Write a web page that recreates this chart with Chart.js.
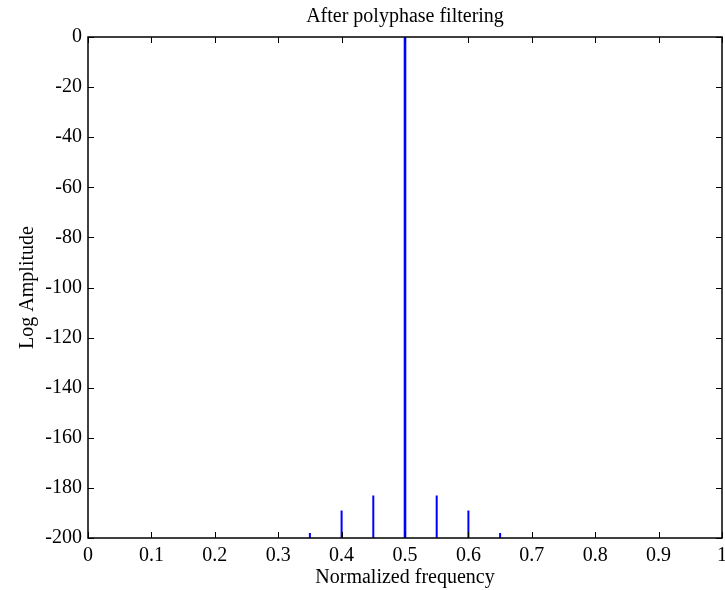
<!DOCTYPE html>
<html>
<head>
<meta charset="utf-8">
<title>After polyphase filtering</title>
<script src="https://cdn.jsdelivr.net/npm/chart.js@4.4.1/dist/chart.umd.min.js"></script>
<style>
  html, body { margin: 0; padding: 0; background: #fff; }
  #wrap { width: 725px; height: 590px; }
</style>
</head>
<body>
<div id="wrap"><canvas id="chartSpec" width="725" height="590"></canvas></div>
<script>
  // spectrum peaks (normalized frequency / log amplitude in dB)
  var spikeFreqs = [0.35, 0.4, 0.45, 0.5, 0.55, 0.6, 0.65];
  var spikeLevels = [-198, -189, -183, 0, -183, -189, -198];
  var floorLevel = -300; // everything else is below the axis
  var xTicks = [0, 0.1, 0.2, 0.3, 0.4, 0.5, 0.6, 0.7, 0.8, 0.9, 1];
  var yTicks = [-200, -180, -160, -140, -120, -100, -80, -60, -40, -20, 0];

  var points = [];
  spikeFreqs.forEach(function (f, i) {
    points.push({ x: f, y: floorLevel });
    points.push({ x: f, y: spikeLevels[i] });
    points.push({ x: f, y: floorLevel });
  });

  var font = { family: "'Liberation Serif', 'Times New Roman', serif", size: 20 };

  // matlab style box with inward ticks on all four sides
  var boxPlugin = {
    id: "boxTicks",
    afterDraw: function (chart) {
      var c = chart.ctx, a = chart.chartArea;
      var xs = chart.scales.x, ys = chart.scales.y;
      var len = 6;
      c.save();
      c.strokeStyle = "#000";
      c.lineWidth = 1;
      c.beginPath();
      xs.ticks.forEach(function (t) {
        var px = Math.round(xs.getPixelForValue(t.value)) + 0.5;
        c.moveTo(px, a.bottom); c.lineTo(px, a.bottom - len);
        c.moveTo(px, a.top); c.lineTo(px, a.top + len);
      });
      ys.ticks.forEach(function (t) {
        var py = Math.round(ys.getPixelForValue(t.value)) + 0.5;
        c.moveTo(a.left, py); c.lineTo(a.left + len, py);
        c.moveTo(a.right, py); c.lineTo(a.right - len, py);
      });
      c.stroke();
      c.lineWidth = 1.5;
      c.strokeRect(a.left, a.top, a.right - a.left, a.bottom - a.top);
      c.restore();
    },
  };

  var ctx = document.getElementById("chartSpec").getContext("2d");
  var chart = new Chart(ctx, {
    type: "line",
    data: {
      datasets: [
        {
          label: "spectrum",
          data: points,
          borderColor: "#0000ff",
          borderWidth: 2,
          pointRadius: 0,
          tension: 0,
          fill: false,
          segment: {
            borderWidth: function (s) {
              return s.p1.parsed.y === 0 || s.p0.parsed.y === 0 ? 2.6 : 2;
            },
          },
        },
      ],
    },
    options: {
      responsive: false,
      animation: false,
      layout: { padding: { left: 0, right: 3, top: 0, bottom: 0 } },
      plugins: {
        legend: { display: false },
        tooltip: { enabled: false },
        title: {
          display: true,
          text: "After polyphase filtering",
          color: "#000",
          font: { family: font.family, size: 20, weight: "normal" },
          fullSize: false,
          padding: { top: 5, bottom: 8 },
        },
      },
      scales: {
        x: {
          type: "linear",
          min: 0,
          max: 1,
          grid: { display: false, drawTicks: false },
          border: { display: false },
          afterBuildTicks: function (s) {
            s.ticks = xTicks.map(function (v) { return { value: v }; });
          },
          afterFit: function (s) {
            s.height = 52;
            s.paddingLeft = 0;
            s.paddingRight = 0;
          },
          ticks: {
            color: "#000",
            font: font,
            padding: 6,
            maxRotation: 0,
            autoSkip: false,
            callback: function (v) { return String(v); },
          },
          title: {
            display: true,
            text: "Normalized frequency",
            color: "#000",
            font: font,
            padding: { top: 0, bottom: 0 },
          },
        },
        y: {
          min: -200,
          max: 0,
          grid: { display: false, drawTicks: false },
          border: { display: false },
          afterBuildTicks: function (s) {
            s.ticks = yTicks.map(function (v) { return { value: v }; });
          },
          afterFit: function (s) {
            s.width = 88;
          },
          ticks: {
            color: "#000",
            font: font,
            padding: 6,
            autoSkip: false,
            callback: function (v) { return String(v); },
          },
          title: {
            display: true,
            text: "Log Amplitude",
            color: "#000",
            font: font,
            padding: { top: 16, bottom: 0 },
          },
        },
      },
    },
    plugins: [boxPlugin],
  });
</script>
</body>
</html>
